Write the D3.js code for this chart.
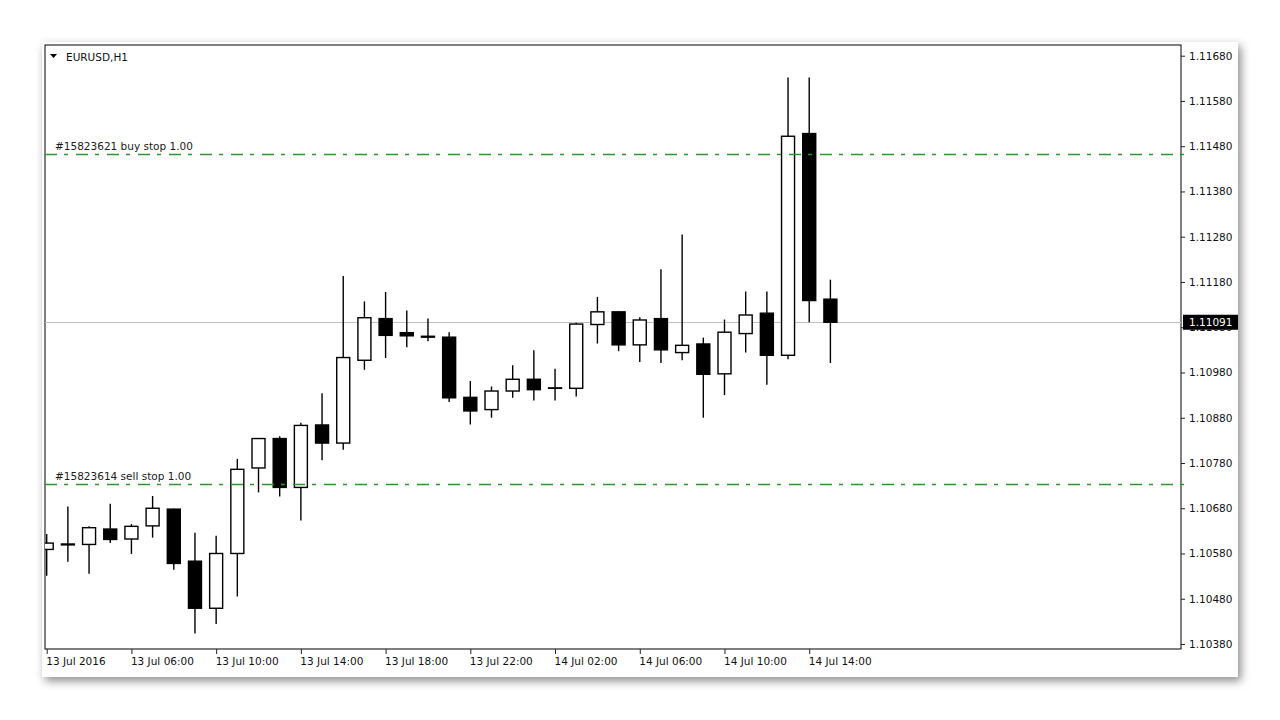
<!DOCTYPE html>
<html>
<head>
<meta charset="utf-8">
<script src="https://cdn.jsdelivr.net/npm/d3@7"></script>
<style>
  body { margin: 0; background: #ffffff; }
  text { font-family: "DejaVu Sans", sans-serif; font-size: 10.5px; }
</style>
</head>
<body>
<div id="chart"></div>
<script>
// EURUSD H1 bars
var times = ["2016-07-13 02:00","2016-07-13 03:00","2016-07-13 04:00","2016-07-13 05:00","2016-07-13 06:00",
  "2016-07-13 07:00","2016-07-13 08:00","2016-07-13 09:00","2016-07-13 10:00","2016-07-13 11:00",
  "2016-07-13 12:00","2016-07-13 13:00","2016-07-13 14:00","2016-07-13 15:00","2016-07-13 16:00",
  "2016-07-13 17:00","2016-07-13 18:00","2016-07-13 19:00","2016-07-13 20:00","2016-07-13 21:00",
  "2016-07-13 22:00","2016-07-13 23:00","2016-07-14 00:00","2016-07-14 01:00","2016-07-14 02:00",
  "2016-07-14 03:00","2016-07-14 04:00","2016-07-14 05:00","2016-07-14 06:00","2016-07-14 07:00",
  "2016-07-14 08:00","2016-07-14 09:00","2016-07-14 10:00","2016-07-14 11:00","2016-07-14 12:00",
  "2016-07-14 13:00","2016-07-14 14:00","2016-07-14 15:00"];
var open  = [1.10589,1.10599,1.10600,1.10634,1.10612,1.10641,1.10678,1.10563,1.10459,1.10580,
             1.10769,1.10834,1.10726,1.10864,1.10824,1.11007,1.11099,1.11068,1.11060,1.11058,
             1.10925,1.10898,1.10939,1.10965,1.10945,1.10945,1.11086,1.11114,1.11041,1.11099,
             1.11024,1.11043,1.10977,1.11066,1.11111,1.11018,1.11508,1.11142];
var high  = [1.10623,1.10684,1.10640,1.10690,1.10645,1.10707,1.10679,1.10626,1.10619,1.10789,
             1.10835,1.10839,1.10869,1.10934,1.11193,1.11137,1.11158,1.11117,1.11099,1.11069,
             1.10961,1.10949,1.10996,1.11029,1.10988,1.11090,1.11147,1.11115,1.11102,1.11208,
             1.11285,1.11057,1.11097,1.11159,1.11159,1.11632,1.11632,1.11185];
var low   = [1.10531,1.10562,1.10535,1.10603,1.10579,1.10615,1.10544,1.10403,1.10424,1.10485,
             1.10715,1.10706,1.10653,1.10786,1.10809,1.10986,1.11012,1.11036,1.11049,1.10915,
             1.10865,1.10880,1.10924,1.10918,1.10918,1.10927,1.11044,1.11027,1.11003,1.11001,
             1.11007,1.10880,1.10930,1.11024,1.10953,1.11009,1.11091,1.11001];
var close = [1.10603,1.10601,1.10637,1.10611,1.10640,1.10680,1.10558,1.10459,1.10580,1.10766,
             1.10834,1.10726,1.10863,1.10824,1.11013,1.11101,1.11062,1.11061,1.11058,1.10924,
             1.10895,1.10939,1.10965,1.10942,1.10946,1.11087,1.11114,1.11041,1.11096,1.11030,
             1.11040,1.10976,1.11069,1.11107,1.11018,1.11502,1.11139,1.11091];

var yTicks = [1.10380,1.10480,1.10580,1.10680,1.10780,1.10880,1.10980,1.11080,1.11180,1.11280,1.11380,1.11480,1.11580,1.11680];
var xTickTimes = ["2016-07-13 02:00","2016-07-13 06:00","2016-07-13 10:00","2016-07-13 14:00","2016-07-13 18:00",
                  "2016-07-13 22:00","2016-07-14 02:00","2016-07-14 06:00","2016-07-14 10:00","2016-07-14 14:00"];
var xTickLabels = ["13 Jul 2016","13 Jul 06:00","13 Jul 10:00","13 Jul 14:00","13 Jul 18:00",
                   "13 Jul 22:00","14 Jul 02:00","14 Jul 06:00","14 Jul 10:00","14 Jul 14:00"];

var orderPrices = [1.11463, 1.10734];
var orderLabels = ["#15823621 buy stop 1.00", "#15823614 sell stop 1.00"];
var bidPrice = 1.11091;

//SVG area
var svgWidth = 1280;
var svgHeight = 720;

//chart frame
var frame = {left: 45, top: 45, right: 1181, bottom: 649};

var svg = d3.select("#chart").append("svg")
    .attr("width", svgWidth)
    .attr("height", svgHeight);

var defs = svg.append("defs");
var shadow = defs.append("filter").attr("id", "shadow")
    .attr("x", "-5%").attr("y", "-5%").attr("width", "110%").attr("height", "115%");
shadow.append("feDropShadow")
    .attr("dx", 3).attr("dy", 4).attr("stdDeviation", 5)
    .attr("flood-color", "#000").attr("flood-opacity", 0.45);

defs.append("clipPath").attr("id", "plotClip")
    .append("rect")
    .attr("x", frame.left).attr("y", frame.top)
    .attr("width", frame.right - frame.left)
    .attr("height", frame.bottom - frame.top);

//window panel
svg.append("rect")
    .attr("x", 42).attr("y", 42)
    .attr("width", 1196).attr("height", 635)
    .attr("fill", "#ffffff")
    .attr("filter", "url(#shadow)");

var parseTime = d3.timeParse("%Y-%m-%d %H:%M");
var bars = times.map(function(t, i) {
    return {t: parseTime(t), o: open[i], h: high[i], l: low[i], c: close[i]};
});

//scales
var xScale = d3.scaleTime()
    .domain([bars[0].t, bars[bars.length - 1].t])
    .range([46.7, 830.4]);

var yScale = d3.scaleLinear()
    .domain([1.10380, 1.11680])
    .range([644, 55.7]);

// snap a horizontal line onto the pixel grid
function crisp(y) { return Math.round(y) + 0.5; }

//frame
svg.append("rect")
    .attr("x", frame.left).attr("y", frame.top)
    .attr("width", frame.right - frame.left)
    .attr("height", frame.bottom - frame.top)
    .attr("fill", "none")
    .attr("stroke", "#2a2a2a")
    .attr("stroke-width", 1.2);

//right price axis
var rightAxis = d3.axisRight(yScale)
    .tickValues(yTicks)
    .tickSize(4)
    .tickFormat(d3.format(".5f"));

var yAxisG = svg.append("g")
    .attr("transform", `translate(${frame.right}, 0)`)
    .call(rightAxis);
yAxisG.select(".domain").remove();
yAxisG.selectAll("line").attr("stroke", "#222");
yAxisG.selectAll("text")
    .attr("x", 8)
    .attr("fill", "#111")
    .style("font-family", "DejaVu Sans")
    .style("font-size", "10.5px");

//bottom time axis
var bottomAxis = d3.axisBottom(xScale)
    .tickValues(xTickTimes.map(parseTime))
    .tickSize(5)
    .tickFormat(function(d, i) { return xTickLabels[i]; });

var xAxisG = svg.append("g")
    .attr("transform", `translate(0, ${frame.bottom})`)
    .call(bottomAxis);
xAxisG.select(".domain").remove();
xAxisG.selectAll("line").attr("stroke", "#222");
xAxisG.selectAll("text")
    .attr("text-anchor", "start")
    .attr("x", -1)
    .attr("y", 9)
    .attr("fill", "#111")
    .style("font-family", "DejaVu Sans")
    .style("font-size", "10.5px");

var plot = svg.append("g").attr("clip-path", "url(#plotClip)");

//bid line
plot.append("line")
    .attr("x1", frame.left).attr("x2", frame.right)
    .attr("y1", crisp(yScale(bidPrice))).attr("y2", crisp(yScale(bidPrice)))
    .attr("stroke", "#c0c0c0")
    .attr("stroke-width", 1);

//pending order lines
orderPrices.forEach(function(p, i) {
    svg.append("line")
        .attr("x1", frame.left).attr("x2", frame.right + 4)
        .attr("y1", crisp(yScale(p))).attr("y2", crisp(yScale(p)))
        .attr("stroke", "#2e962e")
        .attr("stroke-width", 1.3)
        .attr("stroke-dasharray", "12,7,4,8");
    svg.append("text")
        .attr("x", 55)
        .attr("y", yScale(p) - 4)
        .attr("fill", "#1a1a1a")
        .text(orderLabels[i]);
});

//wicks
plot.selectAll(".wick")
    .data(bars)
    .enter()
    .append("line")
    .classed("wick", true)
    .attr("x1", d => xScale(d.t))
    .attr("x2", d => xScale(d.t))
    .attr("y1", d => yScale(d.h))
    .attr("y2", d => yScale(d.l))
    .attr("stroke", "#000")
    .attr("stroke-width", 1.4);

//bodies
plot.selectAll(".body")
    .data(bars)
    .enter()
    .append("rect")
    .classed("body", true)
    .attr("x", d => xScale(d.t) - 6.5)
    .attr("width", 13)
    .attr("y", d => yScale(Math.max(d.o, d.c)))
    .attr("height", d => Math.max(Math.abs(yScale(d.o) - yScale(d.c)), 0.3))
    .attr("fill", d => d.c > d.o ? "#ffffff" : "#000000")
    .attr("stroke", "#000")
    .attr("stroke-width", 1.4);

//bid price label on the axis
svg.append("rect")
    .attr("x", frame.right + 2)
    .attr("y", yScale(bidPrice) - 7.5)
    .attr("width", 55).attr("height", 15)
    .attr("fill", "#000");
svg.append("text")
    .attr("x", frame.right + 8)
    .attr("y", yScale(bidPrice))
    .attr("dy", "0.35em")
    .attr("fill", "#fff")
    .text(d3.format(".5f")(bidPrice));

//symbol header
svg.append("path")
    .attr("d", "M50,54 L57,54 L53.5,58 Z")
    .attr("fill", "#000");
svg.append("text")
    .attr("x", 66)
    .attr("y", 60.5)
    .attr("fill", "#111")
    .text("EURUSD,H1");
</script>
</body>
</html>
